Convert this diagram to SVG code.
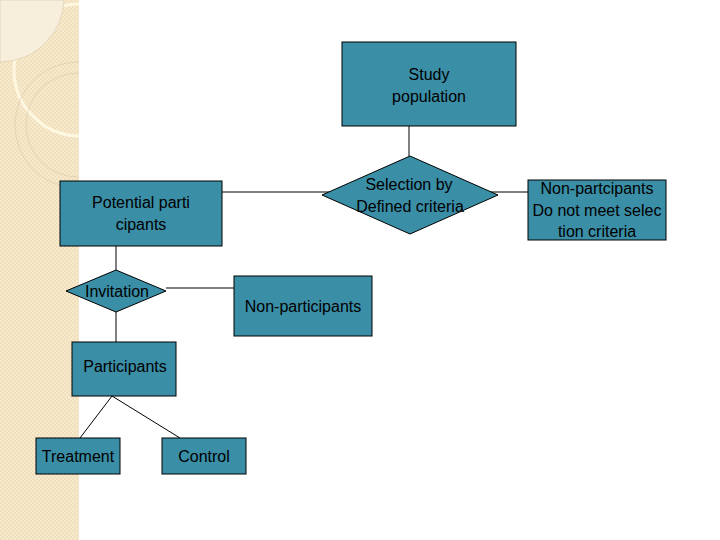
<svg xmlns="http://www.w3.org/2000/svg" width="720" height="540" viewBox="0 0 720 540">
<defs>
<pattern id="chk" width="4" height="4" patternUnits="userSpaceOnUse"><rect width="4" height="4" fill="#f0dfb8"/><rect width="2" height="2" fill="#f6ead0"/><rect x="2" y="2" width="2" height="2" fill="#f6ead0"/></pattern>
<clipPath id="strip"><rect width="79" height="540"/></clipPath>
</defs>
<style>
.n{fill:#3a8ea6;stroke:#000;stroke-width:1}
.t{font-family:"Liberation Sans",Arial,sans-serif;font-size:16px;fill:#000;text-anchor:middle}
.c line{stroke:#000;stroke-width:1}
</style>
<rect width="720" height="540" fill="#fff"/>
<rect width="79" height="540" fill="url(#chk)"/>
<g clip-path="url(#strip)" fill="none">
<circle cx="80" cy="70" r="66" stroke="#fff8e0" stroke-width="3"/>
<path d="M0 62 A64 64 0 0 0 64 0 L0 0Z" fill="#f8eedc" stroke="#d8c8a8" stroke-width="0.6"/>
<circle cx="78" cy="125" r="63" stroke="#d8c8a8" stroke-width="0.6"/>
<circle cx="78" cy="125" r="52" stroke="#d8c8a8" stroke-width="0.6"/>
</g>
<g class="c">
<line x1="409" y1="126" x2="409" y2="156"/>
<line x1="222" y1="192" x2="330" y2="192"/>
<line x1="490" y1="192" x2="528" y2="192"/>
<line x1="116" y1="246" x2="116" y2="270"/>
<line x1="166" y1="288" x2="234" y2="288"/>
<line x1="116" y1="312" x2="116" y2="342"/>
<line x1="112" y1="396" x2="80" y2="438"/>
<line x1="112" y1="396" x2="180" y2="438"/>
</g>
<g id="study"><rect class="n" x="342" y="42" width="174" height="84"/><text class="t" x="429" y="80">Study</text><text class="t" x="429" y="102">population</text></g>
<g id="selection"><polygon class="n" points="410,156 498,195 410,234 322,195"/><text class="t" x="409" y="190">Selection by</text><text class="t" x="410" y="212">Defined criteria</text></g>
<g id="potential"><rect class="n" x="60" y="181" width="162" height="65"/><text class="t" x="141" y="208">Potential parti</text><text class="t" x="141" y="230">cipants</text></g>
<g id="nonpart1"><rect class="n" x="528" y="180" width="138" height="60"/><text class="t" x="597" y="194">Non-partcipants</text><text class="t" x="597" y="216">Do not meet selec</text><text class="t" x="597" y="237">tion criteria</text></g>
<g id="invitation"><polygon class="n" points="116,270 166,291 116,312 66,291"/><text class="t" x="117" y="297">Invitation</text></g>
<g id="nonpart2"><rect class="n" x="234" y="276" width="138" height="60"/><text class="t" x="303" y="312">Non-participants</text></g>
<g id="participants"><rect class="n" x="72" y="342" width="104" height="54"/><text class="t" x="125" y="372">Participants</text></g>
<g id="treatment"><rect class="n" x="36" y="438" width="84" height="36"/><text class="t" x="78" y="462">Treatment</text></g>
<g id="control"><rect class="n" x="162" y="438" width="84" height="36"/><text class="t" x="204" y="462">Control</text></g>
</svg>
